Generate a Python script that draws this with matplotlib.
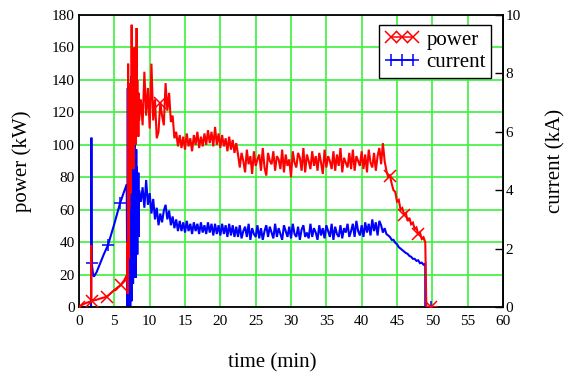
import numpy as np
import matplotlib.pyplot as plt
import matplotlib.transforms as mtransforms
from matplotlib.lines import Line2D

plt.rcParams["font.family"] = "Liberation Serif"
plt.rcParams["font.size"] = 11

KW_PER_KA = 18.0  # 180 kW full scale on the left == 10 kA on the right

# ---- power (kW) ----
# start-up ramp
t_p0 = [0, 0.5, 1.0, 1.7, 1.72, 1.75, 1.9, 2.5, 3.0, 3.9, 4.5, 5.0, 5.9, 6.4, 6.8]
p0 = [0, 1.5, 2.5, 3.5, 38, 3.5, 3.9, 4.5, 5.2, 6.3, 8.5, 10.5, 13.6, 16.5, 20]
# ignition spikes, sampled every 0.05 min from 6.85
p_spike = [40, 8, 150, 30, 120, 60, 138, 90, 112, 70, 130, 100, 174, 95, 150, 110, 125,
           85, 140, 100, 160, 115, 118, 100, 135, 108, 172, 112, 140, 118, 128, 105, 132, 115]
# run, sampled every 0.25 min from 8.75
p_run = [128, 112, 145, 118, 135, 110, 150, 115,
         128, 104, 108, 126, 118, 112, 138, 121,
         132, 114, 118, 104, 108, 99, 106, 98,
         105, 97, 107, 99, 104, 96, 106, 100,
         108, 98, 105, 99, 107, 100, 109, 101,
         108, 99, 111, 100, 107, 98, 106, 99,
         104, 96, 105, 97, 103, 95, 101, 94,
         86, 95, 90, 83, 97, 88, 93, 82,
         96, 87, 91, 94, 84, 98, 86, 81,
         95, 90, 88, 96, 84, 93, 91, 85,
         97, 83, 94, 87, 91, 80, 96, 89,
         86, 95, 92, 84, 98, 83, 94, 90,
         85, 96, 87, 93, 84, 95, 89, 82,
         97, 86, 93, 90, 85, 96, 84, 94,
         87, 98, 83, 92, 89, 86, 95, 85,
         97, 84, 93, 90, 87, 96, 85, 94,
         83, 97, 89, 86, 95, 84, 93, 98,
         88, 101, 90, 84, 80, 81, 76, 72,
         71, 65, 66, 60, 61, 57, 58, 53,
         55, 51, 52, 48, 49, 45, 46, 42,
         43, 40]
t_p_end = [49.15, 49.8, 50.6]
p_end = [0, 0, 0]

# ---- current (kA) ----
t_c0 = [0, 1.7, 1.75, 1.8, 2.0, 2.1, 2.5, 3.0, 3.5, 4.1, 5.0, 5.8, 6.3, 6.75]
c0 = [0, 0, 5.8, 1.5, 1.1, 1.04, 1.2, 1.5, 1.8, 2.12, 2.85, 3.55, 3.9, 4.2]
c_spike = [0.0, 7.5, 0.3, 6.8, 0.0, 7.0, 1.0, 5.5, 0.0, 6.0, 0.5, 7.9, 0.2, 7.6, 1.5, 6.5, 0.8,
           7.2, 1.2, 5.8, 1.0, 6.2, 2.0, 5.0, 1.0, 5.4, 2.2, 4.8, 1.8, 4.5, 2.5, 4.6, 2.4, 4.0]
c_run = [3.6, 4.1, 3.4, 4.35, 3.5, 3.9, 3.2, 3.7,
         3.0, 3.4, 2.8, 3.2, 2.9, 3.3, 3.5, 3.0,
         3.3, 2.8, 3.1, 2.7, 3.0, 2.6, 2.95, 2.6,
         2.9, 2.55, 2.95, 2.6, 2.85, 2.5, 2.9, 2.6,
         2.85, 2.5, 2.9, 2.55, 2.8, 2.5, 2.9, 2.55,
         2.85, 2.45, 2.85, 2.5, 2.8, 2.45, 2.85, 2.5,
         2.8, 2.4, 2.85, 2.45, 2.8, 2.4, 2.75, 2.4,
         2.8, 2.35, 2.6, 2.75, 2.4, 2.85, 2.3, 2.7,
         2.5, 2.4, 2.8, 2.35, 2.7, 2.3, 2.6, 2.8,
         2.4, 2.75, 2.55, 2.35, 2.85, 2.4, 2.7, 2.5,
         2.3, 2.8, 2.6, 2.4, 2.75, 2.35, 2.85, 2.5,
         2.4, 2.75, 2.3, 2.65, 2.8, 2.4, 2.55, 2.35,
         2.85, 2.4, 2.7, 2.55, 2.3, 2.8, 2.45, 2.7,
         2.35, 2.8, 2.6, 2.4, 2.85, 2.3, 2.75, 2.5,
         2.4, 2.8, 2.35, 2.7, 2.55, 2.85, 2.4, 2.6,
         2.85, 2.4, 2.95, 2.6, 2.45, 2.8, 2.4, 2.9,
         2.55, 2.85, 2.45, 3.0, 2.6, 2.9, 2.45, 2.95,
         2.8, 2.55, 2.7, 2.5, 2.45, 2.4, 2.3, 2.3,
         2.2, 2.15, 2.05, 2.0, 1.95, 1.9, 1.85, 1.82,
         1.75, 1.72, 1.65, 1.65, 1.58, 1.6, 1.5, 1.52,
         1.45, 1.48]
t_c_end = [49.0, 49.8, 50.6]
c_end = [0, 0, 0]

# marker positions (min)
marks_p = [0, 1.9, 3.9, 5.9, 11.5, 44.0, 46.0, 48.0, 49.8]
marks_c = [1.8, 4.1, 5.8, 49.8]

# sample clocks
t_spike = 6.85 + 0.05 * np.arange(len(p_spike))
t_run_p = 8.75 + 0.25 * np.arange(len(p_run))
t_run_c = 8.75 + 0.25 * np.arange(len(c_run))

t_pow = np.concatenate([t_p0, t_spike, t_run_p, t_p_end])
power = np.concatenate([p0, p_spike, p_run, p_end])
t_cur = np.concatenate([t_c0, t_spike, t_run_c, t_c_end])
current = np.concatenate([c0, c_spike, c_run, c_end])

idx_p = [int(np.argmin(np.abs(t_pow - m))) for m in marks_p]
idx_c = [int(np.argmin(np.abs(t_cur - m))) for m in marks_c]

fig = plt.figure(figsize=(5.66, 3.72), dpi=100)
ax = fig.add_axes([0.1396, 0.1747, 0.7491, 0.7850])

# current drawn in the power axes through a kA -> kW scaling
ka_trans = mtransforms.Affine2D().scale(1, KW_PER_KA) + ax.transData
ax.plot(t_cur, current, color='#0000ff', lw=1.5, marker='+', ms=9, mew=1.1,
        markevery=idx_c, transform=ka_trans, zorder=2, solid_joinstyle='miter')
ax.plot(t_pow, power, color='#ff0000', lw=1.5, marker='x', ms=8, mew=1.1,
        markevery=idx_p, zorder=3, solid_joinstyle='miter')

ax.set_xlim(0, 60)
ax.set_ylim(0, 180)
ax.set_xticks(range(0, 61, 5))
ax.set_yticks(range(0, 181, 20))
ax.tick_params(length=0, labelsize=11)
ax.tick_params(axis='x', pad=6)
ax.tick_params(axis='y', pad=3)
ax.grid(True, color='#3cf03c', lw=1.2)
ax.set_axisbelow(True)
for s in ax.spines.values():
    s.set_linewidth(1.3)

sec = ax.secondary_yaxis('right', functions=(lambda p: p / KW_PER_KA, lambda c: c * KW_PER_KA))
sec.set_yticks([0, 2, 4, 6, 8, 10])
sec.tick_params(direction='in', length=6, width=1, labelsize=11, pad=2)
sec.spines['right'].set_linewidth(1.3)
sec.set_ylabel('current (kA)', fontsize=15, labelpad=18)

ax.set_ylabel('power (kW)', fontsize=15)
ax.yaxis.set_label_coords(-0.111, 0.5)
ax.set_xlabel('time (min)', fontsize=15)
ax.xaxis.set_label_coords(0.456, -0.158)

handles = [Line2D([0], [0], color='#ff0000', lw=1.1, marker='x', ms=8, mew=1.1),
           Line2D([0], [0], color='#0000ff', lw=1.1, marker='+', ms=9, mew=1.1)]
leg = ax.legend(handles, ['power', 'current'], loc='upper right',
                bbox_to_anchor=(0.9717, 0.9658), numpoints=3, fontsize=15,
                fancybox=False, edgecolor='black', framealpha=1, borderaxespad=0,
                borderpad=0.25, labelspacing=0.15, handlelength=1.65, handletextpad=0.35)
leg.get_frame().set_linewidth(1.0)

fig.savefig('out.png', dpi=100)
